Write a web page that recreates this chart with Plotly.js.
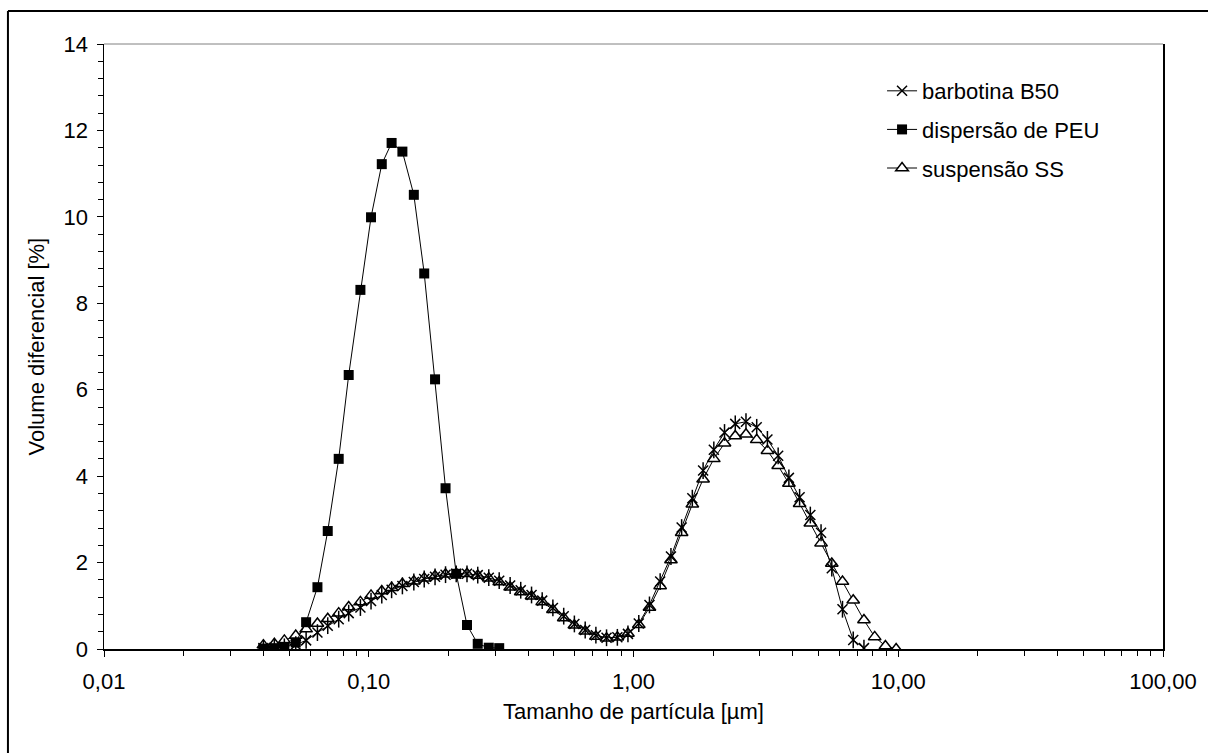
<!DOCTYPE html>
<html>
<head>
<meta charset="utf-8">
<script src="https://cdn.plot.ly/plotly-3.0.1.min.js"></script>
<style>html,body{margin:0;padding:0;background:#fff;}#chart{width:1208px;height:753px;}</style>
</head>
<body>
<div id="chart"></div>
<script>
// Particle size bins [µm] per series
const xPEU = [0.04, 0.044, 0.048, 0.053, 0.058, 0.064, 0.07, 0.077, 0.084, 0.093, 0.102, 0.112, 0.122, 0.134, 0.148, 0.162, 0.178, 0.195, 0.214, 0.235, 0.258, 0.284, 0.311];
const yPEU = [0.01, 0.02, 0.05, 0.15, 0.62, 1.43, 2.73, 4.40, 6.34, 8.31, 9.99, 11.22, 11.71, 11.51, 10.51, 8.69, 6.24, 3.72, 1.74, 0.555, 0.12, 0.03, 0.02];

const xB50 = [0.04, 0.044, 0.048, 0.053, 0.058, 0.064, 0.07, 0.077, 0.084, 0.093, 0.102, 0.112, 0.122, 0.134, 0.148, 0.162, 0.178, 0.195, 0.214, 0.235, 0.258, 0.284, 0.311, 0.342, 0.375, 0.412, 0.452, 0.496, 0.545, 0.598, 0.657, 0.721, 0.791, 0.869, 0.953, 1.047, 1.149, 1.261, 1.385, 1.52, 1.668, 1.832, 2.011, 2.207, 2.423, 2.66, 2.92, 3.205, 3.519, 3.863, 4.24, 4.655, 5.11, 5.61, 6.158, 6.76, 7.421];
const yB50 = [0.02, 0.03, 0.05, 0.10, 0.20, 0.38, 0.54, 0.69, 0.83, 0.96, 1.11, 1.25, 1.37, 1.46, 1.55, 1.62, 1.67, 1.72, 1.74, 1.74, 1.71, 1.65, 1.58, 1.47, 1.36, 1.25, 1.12, 0.95, 0.76, 0.58, 0.44, 0.32, 0.26, 0.27, 0.35, 0.59, 1.02, 1.56, 2.14, 2.81, 3.49, 4.13, 4.61, 5.01, 5.21, 5.26, 5.13, 4.85, 4.47, 3.96, 3.51, 3.10, 2.69, 1.87, 0.92, 0.21, 0.02];

const xSS = [0.04, 0.044, 0.048, 0.053, 0.058, 0.064, 0.07, 0.077, 0.084, 0.093, 0.102, 0.112, 0.122, 0.134, 0.148, 0.162, 0.178, 0.195, 0.214, 0.235, 0.258, 0.284, 0.311, 0.342, 0.375, 0.412, 0.452, 0.496, 0.545, 0.598, 0.657, 0.721, 0.791, 0.869, 0.953, 1.047, 1.149, 1.261, 1.385, 1.52, 1.668, 1.832, 2.011, 2.207, 2.423, 2.66, 2.92, 3.205, 3.519, 3.863, 4.24, 4.655, 5.11, 5.61, 6.158, 6.76, 7.421, 8.147, 8.943, 9.817];
const ySS = [0.09, 0.12, 0.20, 0.31, 0.46, 0.59, 0.70, 0.83, 0.97, 1.09, 1.24, 1.34, 1.42, 1.51, 1.57, 1.64, 1.69, 1.73, 1.75, 1.74, 1.70, 1.64, 1.55, 1.43, 1.32, 1.22, 1.09, 0.91, 0.72, 0.55, 0.41, 0.29, 0.25, 0.27, 0.36, 0.56, 0.96, 1.46, 2.06, 2.69, 3.35, 3.93, 4.40, 4.76, 4.93, 4.97, 4.84, 4.59, 4.24, 3.83, 3.36, 2.91, 2.45, 1.98, 1.56, 1.13, 0.67, 0.28, 0.07, 0.0];

const xTickVals = [0.01, 0.1, 1, 10, 100];
const xTickText = ['0,01', '0,10', '1,00', '10,00', '100,00'];
const names = ['barbotina B50', 'dispersão de PEU', 'suspensão SS'];

const xMinor = [];
for (let d = 0.01; d < 100; d *= 10) {
  for (let k = 2; k <= 9; k++) xMinor.push(+(d * k).toPrecision(3));
}

const traces = [
  {
    x: xSS, y: ySS, name: names[2], legendrank: 3, legendgroup: 'c',
    type: 'scatter', mode: 'lines+markers',
    line: {color: 'black', width: 1},
    marker: {symbol: 'triangle-up', size: 11, color: 'white', line: {color: 'black', width: 1.5}}
  },
  {
    x: xB50, y: yB50, name: names[0], legendrank: 1, legendgroup: 'a',
    type: 'scatter', mode: 'lines+markers',
    line: {color: 'black', width: 1},
    marker: {symbol: 'x-thin-open', size: 10, color: 'black', line: {color: 'black', width: 1.5}}
  },
  {
    x: xB50, y: yB50, name: names[0], legendgroup: 'a', showlegend: false,
    type: 'scatter', mode: 'markers', hoverinfo: 'skip',
    marker: {symbol: 'line-ns-open', size: 12, color: 'black', line: {color: 'black', width: 1.5}}
  },
  {
    x: xPEU, y: yPEU, name: names[1], legendrank: 2, legendgroup: 'b',
    type: 'scatter', mode: 'lines+markers',
    line: {color: 'black', width: 1},
    marker: {symbol: 'square', size: 10, color: 'black'}
  }
];

const layout = {
  width: 1208, height: 753,
  margin: {l: 104, r: 45, t: 44, b: 104},
  paper_bgcolor: 'white', plot_bgcolor: 'white',
  font: {family: '"Liberation Sans", Arial, sans-serif', size: 22, color: 'black'},
  showlegend: true,
  legend: {
    x: 0.7347, y: 0.957, xanchor: 'left', yanchor: 'top',
    bgcolor: 'rgba(0,0,0,0)', borderwidth: 0,
    font: {size: 22}, itemwidth: 30, tracegroupgap: 7,
    traceorder: 'grouped'
  },
  xaxis: {
    type: 'log', range: [-2, 2],
    tickmode: 'array', tickvals: xTickVals, ticktext: xTickText,
    ticks: 'outside', ticklen: 6, tickwidth: 1, tickcolor: 'black',
    ticklabelstandoff: 6,
    minor: {tickmode: 'array', tickvals: xMinor, ticks: 'outside', ticklen: 5, tickwidth: 1, tickcolor: 'black', showgrid: false},
    showline: true, linecolor: 'black', linewidth: 1.5,
    showgrid: false, zeroline: false,
    tickfont: {size: 22}
  },
  yaxis: {
    range: [0, 14], dtick: 2, tick0: 0,
    ticks: 'outside', ticklen: 6, tickwidth: 1, tickcolor: 'black',
    ticklabelstandoff: 4,
    minor: {dtick: 0.4, ticks: 'outside', ticklen: 5, tickwidth: 1, tickcolor: 'black', showgrid: false},
    showline: true, linecolor: 'black', linewidth: 1.5, mirror: true,
    showgrid: false, zeroline: false,
    tickfont: {size: 22}
  },
  annotations: [
    {text: 'Tamanho de partícula [µm]', xref: 'paper', yref: 'paper', x: 0.5, y: -0.1025,
     xanchor: 'center', yanchor: 'middle', showarrow: false, font: {size: 22}},
    {text: 'Volume diferencial [%]', xref: 'paper', yref: 'paper', x: -0.0633, y: 0.5,
     xanchor: 'center', yanchor: 'middle', textangle: -90, showarrow: false, font: {size: 22}}
  ],
  shapes: [
    {type: 'line', xref: 'paper', yref: 'paper', x0: 0, x1: 1, y0: 1, y1: 1, line: {color: '#808080', width: 1}},
    {type: 'line', xref: 'paper', yref: 'paper', x0: -0.0907, x1: -0.0907, y0: 1.0546, y1: -0.18, line: {color: 'black', width: 2}},
    {type: 'line', xref: 'paper', yref: 'paper', x0: -0.0907, x1: 1.05, y0: 1.0546, y1: 1.0546, line: {color: 'black', width: 2}}
  ]
};

Plotly.newPlot('chart', traces, layout, {displayModeBar: false, staticPlot: true});
</script>
</body>
</html>
